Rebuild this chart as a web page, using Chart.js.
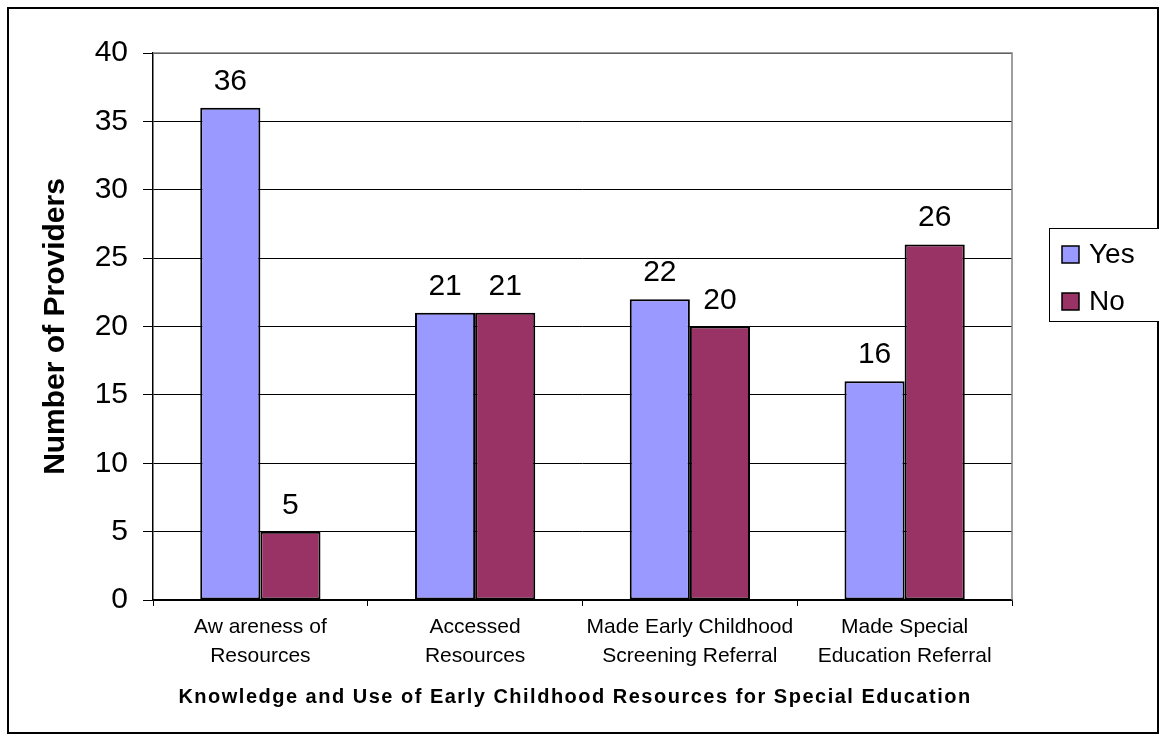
<!DOCTYPE html>
<html>
<head>
<meta charset="utf-8">
<script src="https://cdn.jsdelivr.net/npm/chart.js@4"></script>
<style>
  body { margin: 0; background: #fff; }
  #wrap { position: relative; width: 1159px; height: 734px; }
</style>
</head>
<body>
<div id="wrap"><canvas id="providersChart"></canvas></div>
<script>
// данные графика
const categories = [
    ["Aw areness of", "Resources"],
    ["Accessed", "Resources"],
    ["Made Early Childhood", "Screening Referral"],
    ["Made Special", "Education Referral"]
];
const yesValues = [36, 21, 22, 16];
const noValues = [5, 21, 20, 26];
const yTicks = [0, 5, 10, 15, 20, 25, 30, 35, 40];
const xTitle = "Knowledge and Use of Early Childhood Resources for Special Education";
const yTitle = "Number of Providers";

const FONT = "'Liberation Sans', Arial, sans-serif";

// подписи значений, заголовки осей, рамки и легенда
const decorPlugin = {
    id: 'decor',
    afterDatasetsDraw(chart) {
        const ctx = chart.ctx;
        ctx.save();
        ctx.font = "30px " + FONT;
        ctx.fillStyle = "#000";
        ctx.textAlign = "center";
        ctx.textBaseline = "alphabetic";
        chart.data.datasets.forEach((ds, i) => {
            chart.getDatasetMeta(i).data.forEach((bar, j) => {
                ctx.fillText(String(ds.data[j]), bar.x, bar.y - 18);
            });
        });
        ctx.restore();
    },
    afterDraw(chart) {
        const ctx = chart.ctx;
        const a = chart.chartArea;
        ctx.save();
        // рамка области построения
        ctx.strokeStyle = "#808080";
        ctx.lineWidth = 1.5;
        ctx.beginPath();
        ctx.moveTo(a.left, a.top);
        ctx.lineTo(a.right, a.top);
        ctx.lineTo(a.right, a.bottom);
        ctx.stroke();
        // внешняя рамка
        ctx.strokeStyle = "#000";
        ctx.lineWidth = 2;
        ctx.strokeRect(8, 8, 1150, 725);

        // заголовок оси X
        ctx.fillStyle = "#000";
        ctx.font = "bold 20px " + FONT;
        ctx.letterSpacing = "1.5px";
        ctx.textAlign = "center";
        ctx.textBaseline = "middle";
        ctx.fillText(xTitle, 575, 697);
        ctx.letterSpacing = "0px";

        // заголовок оси Y
        ctx.save();
        ctx.translate(56, (a.top + a.bottom) / 2);
        ctx.rotate(-Math.PI / 2);
        ctx.font = "bold 30px " + FONT;
        ctx.fillText(yTitle, 0, 0);
        ctx.restore();

        // легенда
        ctx.lineWidth = 1;
        ctx.strokeStyle = "#000";
        ctx.fillStyle = "#fff";
        ctx.fillRect(1049.5, 228.5, 120, 93);
        ctx.strokeRect(1049.5, 228.5, 120, 93);
        ctx.font = "28px " + FONT;
        ctx.textAlign = "left";
        ctx.textBaseline = "middle";
        chart.data.datasets.forEach((ds, i) => {
            const y = 254 + i * 47;
            ctx.fillStyle = ds.backgroundColor;
            ctx.fillRect(1062, y - 8, 17, 17);
            ctx.lineWidth = 1.5;
            ctx.strokeRect(1062, y - 8, 17, 17);
            ctx.fillStyle = "#000";
            ctx.fillText(ds.label, 1089, y + 1);
        });
        ctx.restore();
    }
};

const ctx = document.getElementById("providersChart").getContext("2d");
new Chart(ctx, {
    type: "bar",
    data: {
        labels: categories,
        datasets: [
            {
                label: "Yes",
                data: yesValues,
                backgroundColor: "#9999FF",
                borderColor: "#000",
                borderWidth: 2,
                borderSkipped: false,
                barPercentage: 1.0,
                categoryPercentage: 0.56
            },
            {
                label: "No",
                data: noValues,
                backgroundColor: "#993366",
                borderColor: "#000",
                borderWidth: 2,
                borderSkipped: false,
                barPercentage: 1.0,
                categoryPercentage: 0.56
            }
        ]
    },
    options: {
        responsive: true,
        maintainAspectRatio: false,
        animation: false,
        layout: {
            padding: { top: 53, right: 147, left: 0, bottom: 0 }
        },
        scales: {
            x: {
                offset: true,
                grid: {
                    offset: true,
                    drawOnChartArea: false,
                    drawTicks: true,
                    tickLength: 6,
                    color: "#000"
                },
                border: { color: "#000", width: 1.5 },
                ticks: {
                    color: "#000",
                    font: { family: FONT, size: 21, lineHeight: 1.38 },
                    padding: 7,
                    maxRotation: 0,
                    autoSkip: false
                },
                afterFit(scale) { scale.height = 134; }
            },
            y: {
                min: 0,
                max: 40,
                afterBuildTicks(scale) {
                    scale.ticks = yTicks.map(v => ({ value: v }));
                },
                grid: {
                    color: "#000",
                    lineWidth: 1,
                    tickLength: 10
                },
                border: { color: "#000", width: 1.5 },
                ticks: {
                    color: "#000",
                    font: { family: FONT, size: 30 },
                    padding: 15
                },
                afterFit(scale) { scale.width = 153; }
            }
        },
        plugins: {
            legend: { display: false },
            tooltip: { enabled: false }
        }
    },
    plugins: [decorPlugin]
});
</script>
</body>
</html>
